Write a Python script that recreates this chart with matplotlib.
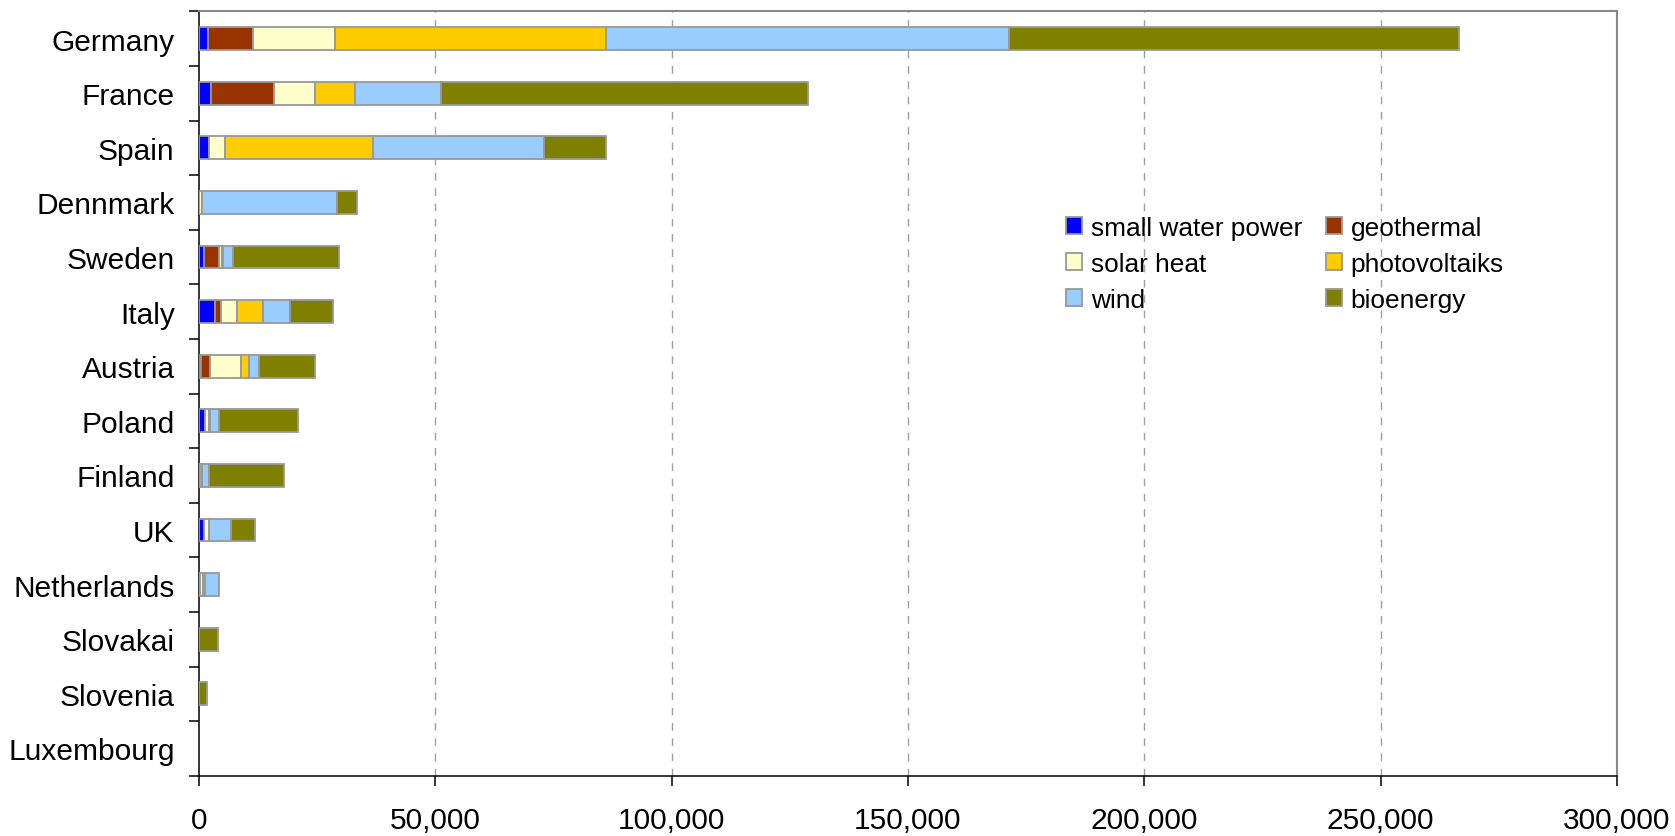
import matplotlib
matplotlib.use("Agg")
import matplotlib.pyplot as plt
import numpy as np

plt.rcParams['font.family'] = ['Liberation Sans', 'DejaVu Sans']
plt.rcParams['lines.scale_dashes'] = False

countries = ["Germany", "France", "Spain", "Denmark", "Sweden", "Italy", "Austria",
             "Poland", "Finland", "UK", "Netherlands", "Slovakai", "Slovenia", "Luxembourg"]
country_labels = ["Germany", "France", "Spain", "Dennmark", "Sweden", "Italy", "Austria",
                  "Poland", "Finland", "UK", "Netherlands", "Slovakai", "Slovenia", "Luxembourg"]

small_water_power = [2000, 2550, 2050, 0, 1150, 3350, 500, 1200, 200, 1150, 200, 0, 0, 0]
geothermal        = [9450, 13400, 100, 0, 3000, 1200, 1900, 0, 0, 0, 0, 0, 0, 0]
solar_heat        = [17350, 8650, 3350, 700, 800, 3550, 6500, 1000, 400, 900, 600, 0, 0, 0]
photovoltaiks     = [57300, 8450, 31400, 0, 100, 5450, 1750, 100, 0, 0, 400, 0, 0, 0]
wind              = [85200, 18250, 36000, 28600, 2100, 5650, 1970, 2000, 1600, 4750, 3100, 0, 0, 0]
bioenergy         = [95300, 77550, 13150, 4200, 22500, 9250, 12000, 16550, 15680, 5150, 0, 3950, 1700, 0]

series_names = ["small water power", "geothermal", "solar heat", "photovoltaiks", "wind", "bioenergy"]
series_values = [small_water_power, geothermal, solar_heat, photovoltaiks, wind, bioenergy]
series_colors = ["#0000FF", "#993300", "#FFFFCC", "#FFCC00", "#99CCFF", "#808000"]

xticks = [0, 50000, 100000, 150000, 200000, 250000, 300000]

fig = plt.figure(figsize=(16.75, 8.37), dpi=100)
ax = fig.add_axes([199/1675, 1 - 776.7/837, (1617 - 199)/1675, (776.7 - 12.3)/837])

y = np.arange(len(countries))
left = np.zeros(len(countries))
handles = []
edge = "#999999"
for name, vals, col in zip(series_names, series_values, series_colors):
    vals = np.array(vals, dtype=float)
    ecs = [edge if v > 0 else "none" for v in vals]
    ax.barh(y, vals, left=left, height=0.42, color=col, edgecolor=ecs,
            linewidth=1.3, zorder=3, label=name)
    left += vals
    h = plt.Rectangle((0, 0), 1, 1, facecolor=col, edgecolor=edge, linewidth=1.3)
    handles.append(h)

ax.set_xlim(0, 300000)
ax.set_ylim(len(countries) - 0.5, -0.5)

ax.set_xticks(xticks)
ax.set_xticklabels([f"{v:,}" for v in xticks], fontsize=21.5)
ax.set_yticks(y)
ax.set_yticklabels(country_labels, fontsize=21.5)
ax.tick_params(axis='y', which='major', length=0, pad=17.5)
ax.set_yticks(np.arange(-0.5, len(countries), 1), minor=True)
ax.tick_params(axis='y', which='minor', length=7.5, width=1.1, color='black', direction='out')
ax.tick_params(axis='x', which='major', length=7.5, width=1.1, color='black', direction='out', pad=14.5)

for xv in xticks[1:-1]:
    ax.axvline(xv, color="#A0A0A0", linewidth=1.0, linestyle=(0, (5.5, 5.5)), zorder=1)

for s in ['left', 'bottom']:
    ax.spines[s].set_color('black')
    ax.spines[s].set_linewidth(1.1)
for s in ['top', 'right']:
    ax.spines[s].set_color('#888888')
    ax.spines[s].set_linewidth(1.5)

order = [0, 2, 4, 1, 3, 5]
leg = fig.legend([handles[i] for i in order], [series_names[i] for i in order],
                 ncol=2, loc='upper left', bbox_to_anchor=(1066/1675, 1 - 217/837),
                 frameon=False, fontsize=18.9, handlelength=0.6, handleheight=0.6,
                 handletextpad=0.35, columnspacing=0.9, labelspacing=0.45,
                 borderpad=0, borderaxespad=0)

fig.savefig("out.png", dpi=100)
